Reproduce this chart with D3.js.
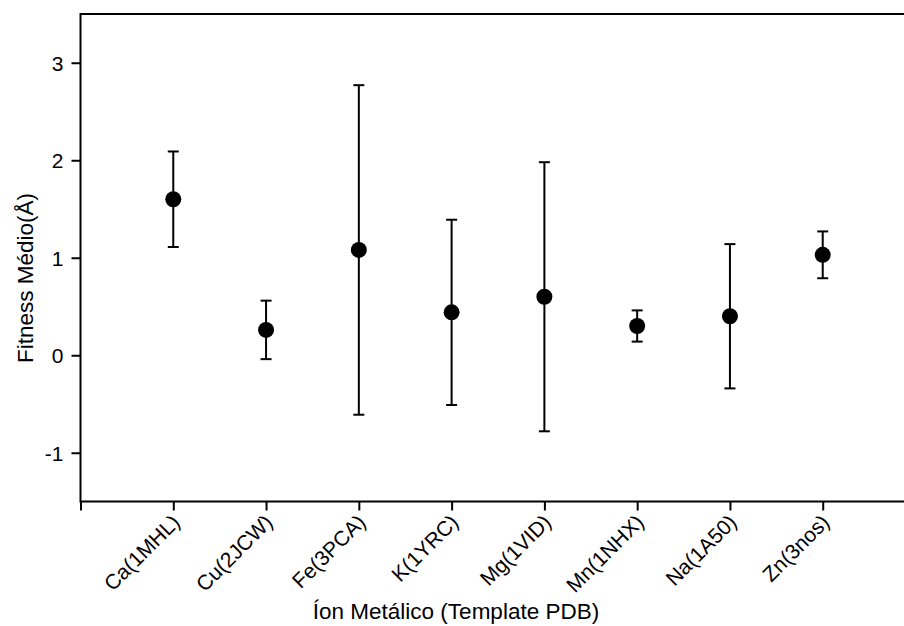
<!DOCTYPE html>
<html>
  <head>
    <meta charset="utf-8" />
    <script src="https://cdn.jsdelivr.net/npm/d3@7"></script>
    <style>
    body { margin: 0; background: #fff; }
    text { font-family: "Liberation Sans", Arial, sans-serif; fill: #000; }
    </style>
  </head>
  <body>
    <div id="master"></div>

    <script type="text/javascript">
// data
var ions = ["Ca(1MHL)", "Cu(2JCW)", "Fe(3PCA)", "K(1YRC)", "Mg(1VID)", "Mn(1NHX)", "Na(1A50)", "Zn(3nos)"];
var fitness = [1.60, 0.26, 1.08, 0.44, 0.60, 0.30, 0.40, 1.03];
var errors = [0.49, 0.30, 1.69, 0.95, 1.38, 0.16, 0.74, 0.24];
var yTicks = [-1, 0, 1, 2, 3];

var width = 904, height = 626;
var svg = d3.select("#master").append("svg")
  .attr("width", width)
  .attr("height", height);

// x runs past the right edge of the picture, like the original
var x = d3.scaleLinear().domain([0, 9]).range([80.5, 915.5]);
var y = d3.scaleLinear().domain([-1.5, 3.5]).range([501.5, 14]);

// frame
svg.append("rect")
  .attr("x", x(0)).attr("y", y(3.5))
  .attr("width", x(9) - x(0)).attr("height", y(-1.5) - y(3.5))
  .attr("fill", "none").attr("stroke", "#000").attr("stroke-width", 2);

// y axis
var yAxis = svg.append("g")
  .attr("transform", "translate(" + x(0) + ",0)")
  .call(d3.axisLeft(y).tickValues(yTicks).tickSize(9).tickPadding(8)
    .tickFormat(function(d) { return String(d); }));
yAxis.select(".domain").remove();
yAxis.selectAll("line").attr("stroke-width", 2);
yAxis.selectAll("text").attr("font-size", 21).attr("font-family", null).attr("dy", "0.36em");

// x axis, category at 1..8
var xAxis = svg.append("g")
  .attr("transform", "translate(0," + y(-1.5) + ")")
  .call(d3.axisBottom(x).tickValues(d3.range(0, 10)).tickSize(9).tickFormat(""));
xAxis.select(".domain").remove();
xAxis.selectAll("line").attr("stroke-width", 2);

svg.selectAll(".xlab")
  .data(ions)
  .enter()
  .append("text")
    .attr("class", "xlab")
    .attr("transform", function(d, i) { return "translate(" + (x(i + 1) + 8) + "," + (y(-1.5) + 22) + ") rotate(-45)"; })
    .attr("text-anchor", "end")
    .attr("font-size", 21)
    .text(function(d) { return d; });

// error bars
var bars = svg.selectAll(".err")
  .data(fitness)
  .enter()
  .append("g")
    .attr("class", "err")
    .attr("stroke", "#000")
    .attr("stroke-width", 2);

bars.append("line")
  .attr("x1", function(d, i) { return x(i + 1); })
  .attr("x2", function(d, i) { return x(i + 1); })
  .attr("y1", function(d, i) { return y(d + errors[i]); })
  .attr("y2", function(d, i) { return y(d - errors[i]); });

[1, -1].forEach(function(s) {
  bars.append("line")
    .attr("x1", function(d, i) { return x(i + 1) - 5.5; })
    .attr("x2", function(d, i) { return x(i + 1) + 5.5; })
    .attr("y1", function(d, i) { return y(d + s * errors[i]); })
    .attr("y2", function(d, i) { return y(d + s * errors[i]); });
});

svg.selectAll(".dot")
  .data(fitness)
  .enter()
  .append("circle")
    .attr("class", "dot")
    .attr("cx", function(d, i) { return x(i + 1); })
    .attr("cy", function(d) { return y(d); })
    .attr("r", 8)
    .attr("fill", "#000");

// axis titles
svg.append("text")
  .attr("transform", "translate(33," + 278 + ") rotate(-90)")
  .attr("text-anchor", "middle")
  .attr("font-size", 22.5)
  .text("Fitness Médio(Å)");

svg.append("text")
  .attr("x", 456)
  .attr("y", 619)
  .attr("text-anchor", "middle")
  .attr("font-size", 22.5)
  .text("Íon Metálico (Template PDB)");
    </script>
  </body>
</html>
